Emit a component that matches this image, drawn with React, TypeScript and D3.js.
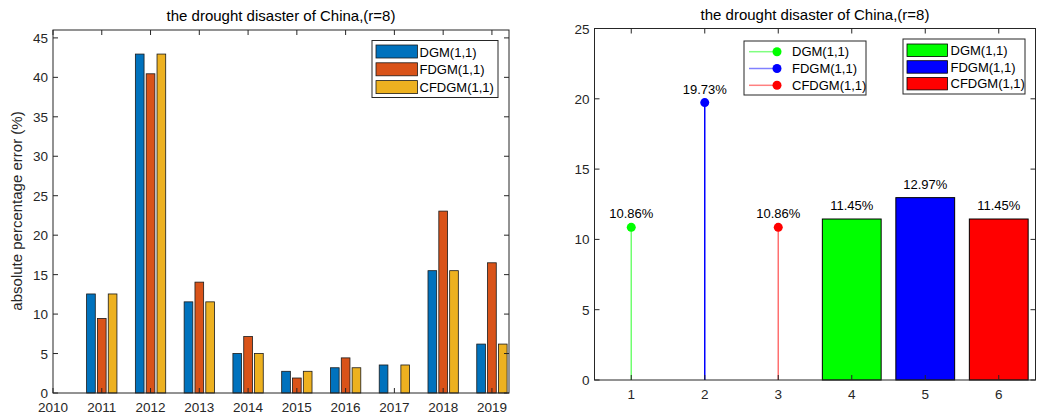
import React from 'react';
import * as d3 from 'd3';

// left panel data
const years = [2011, 2012, 2013, 2014, 2015, 2016, 2017, 2018, 2019];
const models = ['DGM(1,1)', 'FDGM(1,1)', 'CFDGM(1,1)'];
const dgm = [12.55, 42.95, 11.55, 5.0, 2.75, 3.2, 3.55, 15.5, 6.2];
const fdgm = [9.45, 40.45, 14.05, 7.15, 1.9, 4.45, 0, 23.05, 16.5];
const cfdgm = [12.55, 42.95, 11.55, 5.0, 2.75, 3.2, 3.55, 15.5, 6.2];
const leftXTicks = [2010, 2011, 2012, 2013, 2014, 2015, 2016, 2017, 2018, 2019];
const leftYTicks = [0, 5, 10, 15, 20, 25, 30, 35, 40, 45];

// right panel data
const stemX = [1, 2, 3];
const stemValues = [10.86, 19.73, 10.86];
const barX = [4, 5, 6];
const barValues = [11.45, 12.97, 11.45];
const rightXTicks = [1, 2, 3, 4, 5, 6];
const rightYTicks = [0, 5, 10, 15, 20, 25];

const matlabColors = ['#0072BD', '#D95319', '#EDB120'];
const pureColors = ['#00ff00', '#0000ff', '#ff0000'];
const stemLineColors = ['#70ff70', '#0000ff', '#ff7070'];
const legendLineColors = ['#80ff80', '#8080ff', '#ff8080'];

const title = 'the drought disaster of China,(r=8)';
const font = '"Liberation Sans", Arial, sans-serif';
const axisColor = '#262626';
const tickLen = 5;

function AxesBox({ x, y, xTicks, yTicks }) {
  const [x0, x1] = x.range();
  const [y0, y1] = y.range();
  return (
    <g>
      <rect x={x0} y={y1} width={x1 - x0} height={y0 - y1} fill="none" stroke={axisColor} strokeWidth={1} />
      {xTicks.map(t => (
        <g key={'x' + t}>
          <line x1={x(t)} x2={x(t)} y1={y0} y2={y0 - tickLen} stroke={axisColor} />
          <line x1={x(t)} x2={x(t)} y1={y1} y2={y1 + tickLen} stroke={axisColor} />
          <text x={x(t)} y={y0 + 19} textAnchor="middle" fontSize={13.5} fill={axisColor}>{t}</text>
        </g>
      ))}
      {yTicks.map(t => (
        <g key={'y' + t}>
          <line x1={x0} x2={x0 + tickLen} y1={y(t)} y2={y(t)} stroke={axisColor} />
          <line x1={x1} x2={x1 - tickLen} y1={y(t)} y2={y(t)} stroke={axisColor} />
          <text x={x0 - 5} y={y(t) + 5} textAnchor="end" fontSize={13.5} fill={axisColor}>{t}</text>
        </g>
      ))}
    </g>
  );
}

function LeftPanel() {
  const x = d3.scaleLinear().domain([2010, 2019.35]).range([53, 509]);
  const y = d3.scaleLinear().domain([0, 46]).range([393, 30]);
  const series = [dgm, fdgm, cfdgm];
  const offset = 0.222;
  const bw = 0.178;
  return (
    <g>
      {series.map((vals, si) =>
        vals.map((v, i) => {
          const cx = years[i] + (si - 1) * offset;
          if (v <= 0) return null;
          return (
            <rect key={si + '-' + i}
              x={x(cx - bw / 2)} y={y(v)} width={x(cx + bw / 2) - x(cx - bw / 2)} height={y(0) - y(v)}
              fill={matlabColors[si]} stroke="#1a1a1a" strokeWidth={0.8} />
          );
        })
      )}
      <AxesBox x={x} y={y} xTicks={leftXTicks} yTicks={leftYTicks} />
      <text x={281} y={21} textAnchor="middle" fontSize={15} fill="#000">{title}</text>
      <text transform="translate(22,211) rotate(-90)" textAnchor="middle" fontSize={15} fill={axisColor}>
        absolute percentage error (%)
      </text>
      <g>
        <rect x={372} y={40.5} width={126} height={57} fill="#fff" stroke={axisColor} />
        {models.map((m, i) => (
          <g key={m}>
            <rect x={376} y={45 + i * 17.8} width={41.5} height={13} fill={matlabColors[i]} stroke="#1a1a1a" strokeWidth={0.8} />
            <text x={419.5} y={56.5 + i * 17.8} fontSize={13} fill="#000">{m}</text>
          </g>
        ))}
      </g>
    </g>
  );
}

function RightPanel() {
  const x = d3.scaleLinear().domain([0.5, 6.5]).range([594.5, 1035.5]);
  const y = d3.scaleLinear().domain([0, 25]).range([380, 28.5]);
  const bw = 0.8;
  return (
    <g>
      {stemValues.map((v, i) => (
        <g key={'s' + i}>
          <line x1={x(stemX[i])} x2={x(stemX[i])} y1={y(0)} y2={y(v)} stroke={stemLineColors[i]} strokeWidth={1.5} />
          <circle cx={x(stemX[i])} cy={y(v)} r={4.5} fill={pureColors[i]} />
          <text x={x(stemX[i])} y={y(v) - 9} textAnchor="middle" fontSize={13} fill="#000">{v.toFixed(2)}%</text>
        </g>
      ))}
      {barValues.map((v, i) => (
        <g key={'b' + i}>
          <rect x={x(barX[i] - bw / 2)} y={y(v)} width={x(barX[i] + bw / 2) - x(barX[i] - bw / 2)} height={y(0) - y(v)}
            fill={pureColors[i]} stroke="#000" strokeWidth={1} />
          <text x={x(barX[i])} y={y(v) - 9} textAnchor="middle" fontSize={13} fill="#000">{v.toFixed(2)}%</text>
        </g>
      ))}
      <AxesBox x={x} y={y} xTicks={rightXTicks} yTicks={rightYTicks} />
      <text x={815} y={20} textAnchor="middle" fontSize={15} fill="#000">{title}</text>
      <g>
        <rect x={744} y={41} width={122} height={54} fill="#fff" stroke={axisColor} />
        {models.map((m, i) => (
          <g key={m}>
            <line x1={749} x2={777} y1={51.7 + i * 16.8} y2={51.7 + i * 16.8} stroke={legendLineColors[i]} strokeWidth={1.5} />
            <circle cx={777} cy={51.7 + i * 16.8} r={4.5} fill={pureColors[i]} />
            <text x={792} y={56.2 + i * 16.8} fontSize={13} fill="#000">{m}</text>
          </g>
        ))}
      </g>
      <g>
        <rect x={903} y={39} width={122} height={55} fill="#fff" stroke={axisColor} />
        {models.map((m, i) => (
          <g key={m}>
            <rect x={907} y={44 + i * 16.7} width={40.5} height={12.5} fill={pureColors[i]} stroke="#000" strokeWidth={0.8} />
            <text x={950.5} y={54.8 + i * 16.7} fontSize={13} fill="#000">{m}</text>
          </g>
        ))}
      </g>
    </g>
  );
}

export default function App() {
  return (
    <div style={{ position: 'fixed', left: 0, top: 0 }}>
      <svg width={1059} height={418} style={{ display: 'block', background: '#fff', fontFamily: font }}>
        <rect width={1059} height={418} fill="#fff" />
        <LeftPanel />
        <RightPanel />
      </svg>
    </div>
  );
}
